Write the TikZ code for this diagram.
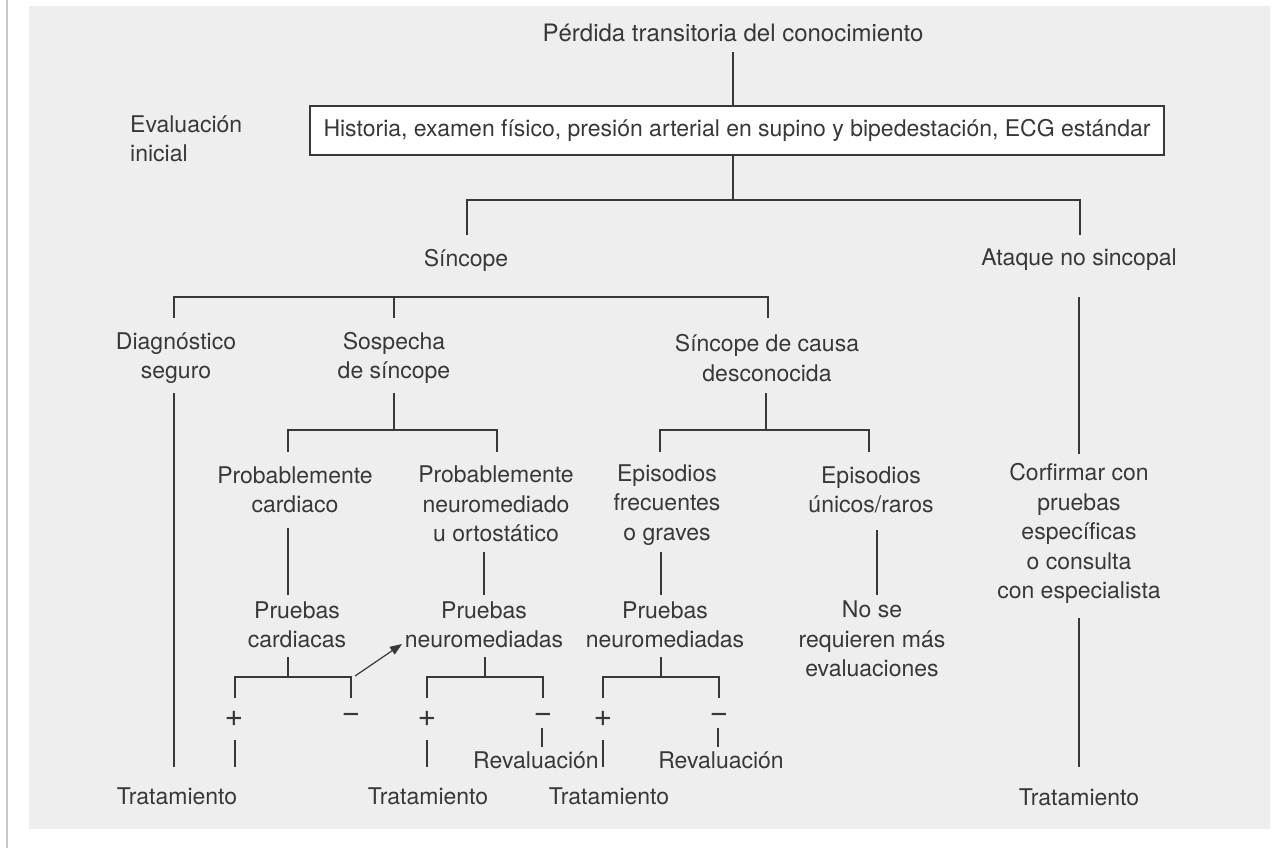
\documentclass[tikz,border=0pt]{standalone}
\usepackage{fontspec}
\setmainfont{TeX Gyre Heros}
\usetikzlibrary{arrows.meta}
\definecolor{bggray}{HTML}{EEEEEE}
\definecolor{ink}{HTML}{383838}
\definecolor{edgegray}{HTML}{C8C8C8}
\begin{document}
\begin{tikzpicture}[x=1pt,y=-1pt,
  lbl/.style={text=ink, font=\fontsize{23}{29.5}\selectfont, align=center, inner sep=0pt},
  ttl/.style={lbl, font=\fontsize{24}{29.5}\selectfont},
  sgn/.style={lbl, font=\fontsize{32}{36}\selectfont},
  boxnode/.style={lbl, draw=ink, line width=1.2pt, fill=white, minimum width=854pt, minimum height=49pt},
  conn/.style={draw=ink, line width=1.2pt},
  arr/.style={conn, -{Triangle[length=12pt,width=9pt]}}
]
\useasboundingbox (0,0) rectangle (1283,848);
\fill[bggray] (29,6) rectangle (1270,829);
\draw[edgegray, line width=1.5pt] (7,0) -- (7,848);

% nodes
\node[ttl] (title) at (733,33) {Pérdida transitoria del conocimiento};
\node[boxnode] (box) at (737,130.5) {Historia, examen físico, presión arterial en supino y bipedestación, ECG estándar};
\node[lbl, align=left, anchor=west] (evalini) at (130,139) {Evaluación\\inicial};
\node[lbl] (sinc) at (466,260) {Síncope};
\node[lbl] (ataque) at (1079,260) {Ataque no sincopal};
\node[lbl] (diag) at (176,358) {Diagnóstico\\seguro};
\node[lbl] (sosp) at (394,358) {Sospecha\\de síncope};
\node[lbl] (desc) at (767,358) {Síncope de causa\\desconocida};
\node[lbl] (pcard) at (295,490) {Probablemente\\cardiaco};
\node[lbl] (pneuro) at (496,504) {Probablemente\\neuromediado\\u ortostático};
\node[lbl] (epfreq) at (667,505) {Episodios\\frecuentes\\o graves};
\node[lbl] (epuni) at (871,490) {Episodios\\únicos/raros};
\node[lbl] (confirm) at (1079,533.5) {Corfirmar con\\pruebas\\específicas\\o consulta\\con especialista};
\node[lbl] (prc) at (297,625) {Pruebas\\cardiacas};
\node[lbl] (prnA) at (484,625) {Pruebas\\neuromediadas};
\node[lbl] (prnB) at (665,625) {Pruebas\\neuromediadas};
\node[lbl] (nose) at (872,639) {No se\\requieren más\\evaluaciones};
\node[sgn] (plusA) at (234,719) {+};
\node[sgn] (minusA) at (351,718) {−};
\node[sgn] (plusB) at (427,719) {+};
\node[sgn] (minusB) at (543,718) {−};
\node[sgn] (plusC) at (603,719) {+};
\node[sgn] (minusC) at (719,718) {−};
\node[lbl] (revA) at (536,760) {Revaluación};
\node[lbl] (revB) at (721,760) {Revaluación};
\node[lbl] (tratA) at (177,796) {Tratamiento};
\node[lbl] (tratB) at (428,796) {Tratamiento};
\node[lbl] (tratC) at (609,796) {Tratamiento};
\node[lbl] (tratD) at (1079,797) {Tratamiento};

% coordinates
\coordinate (t0) at (733,52);
\coordinate (j0) at (733,200);
\coordinate (sL) at (467,235);
\coordinate (sR) at (1080,235);
\coordinate (b1L) at (174,318);
\coordinate (b1M) at (394,318);
\coordinate (b1R) at (768,318);
\coordinate (bar1) at (0,297);
\coordinate (dg0) at (174,393);
\coordinate (dg1) at (174,767);
\coordinate (sp0) at (394,393);
\coordinate (sp1) at (394,430);
\coordinate (spL) at (288,452);
\coordinate (spR) at (497,452);
\coordinate (ds0) at (766,393);
\coordinate (ds1) at (766,430);
\coordinate (dsL) at (660,452);
\coordinate (dsR) at (869,452);
\coordinate (pc0) at (288,528);
\coordinate (pc1) at (288,595);
\coordinate (pn0) at (484,552);
\coordinate (pn1) at (484,595);
\coordinate (ef0) at (661,552);
\coordinate (ef1) at (661,595);
\coordinate (eu0) at (877,530);
\coordinate (eu1) at (877,595);
\coordinate (at0) at (1079,297);
\coordinate (at1) at (1079,454);
\coordinate (cf0) at (1079,618);
\coordinate (cf1) at (1079,767);
\coordinate (kc0) at (288,657);
\coordinate (kc1) at (288,677);
\coordinate (kcL) at (235,698);
\coordinate (kcR) at (351,698);
\coordinate (kn0) at (485,657);
\coordinate (kn1) at (485,677);
\coordinate (knL) at (427,698);
\coordinate (knR) at (543,698);
\coordinate (km0) at (661,657);
\coordinate (km1) at (661,677);
\coordinate (kmL) at (603,698);
\coordinate (kmR) at (719,698);
\coordinate (pa0) at (235,740);
\coordinate (pa1) at (235,767);
\coordinate (pb0) at (427,740);
\coordinate (pb1) at (427,767);
\coordinate (pcc0) at (603,740);
\coordinate (pcc1) at (603,767);
\coordinate (mb0) at (542,728);
\coordinate (mb1) at (542,747);
\coordinate (mc0) at (718,728);
\coordinate (mc1) at (718,747);
\coordinate (ar0) at (355,676);
\coordinate (ar1) at (402,644);

% connectors
\draw[conn] (t0) -- (t0 |- box.north);
\draw[conn] (box.south -| j0) -- (j0);
\draw[conn] (sL) |- (j0) -| (sR);
\draw[conn] (b1L) -- (b1L |- bar1) -| (b1R);
\draw[conn] (b1M |- bar1) -- (b1M);
\draw[conn] (dg0) -- (dg1);
\draw[conn] (sp0) -- (sp1);
\draw[conn] (spL) |- (sp1) -| (spR);
\draw[conn] (ds0) -- (ds1);
\draw[conn] (dsL) |- (ds1) -| (dsR);
\draw[conn] (pc0) -- (pc1);
\draw[conn] (pn0) -- (pn1);
\draw[conn] (ef0) -- (ef1);
\draw[conn] (eu0) -- (eu1);
\draw[conn] (at0) -- (at1);
\draw[conn] (cf0) -- (cf1);
\draw[conn] (kc0) -- (kc1);
\draw[conn] (kcL) |- (kc1) -| (kcR);
\draw[conn] (kn0) -- (kn1);
\draw[conn] (knL) |- (kn1) -| (knR);
\draw[conn] (km0) -- (km1);
\draw[conn] (kmL) |- (km1) -| (kmR);
\draw[conn] (pa0) -- (pa1);
\draw[conn] (pb0) -- (pb1);
\draw[conn] (pcc0) -- (pcc1);
\draw[conn] (mb0) -- (mb1);
\draw[conn] (mc0) -- (mc1);
\draw[arr] (ar0) -- (ar1);
\end{tikzpicture}
\end{document}
